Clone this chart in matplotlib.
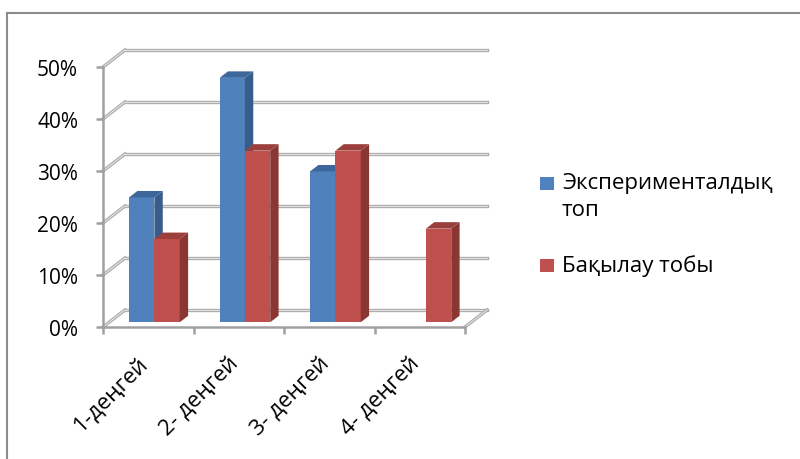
import matplotlib
matplotlib.use("Agg")
import matplotlib.pyplot as plt
from matplotlib.patches import Polygon, Rectangle
from matplotlib.lines import Line2D

plt.rcParams['font.family'] = ['Open Sans', 'DejaVu Sans']

categories = ['1-деңгей', '2- деңгей', '3- деңгей', '4- деңгей']
series_names = ['Экспериментaлдық\nтоп', 'Бақылау тобы']
experimental = [24, 47, 29, 0]
control = [16, 33, 33, 18]
y_ticks = [0, 10, 20, 30, 40, 50]
y_tick_labels = ['0%', '10%', '20%', '30%', '40%', '50%']

front_colors = ['#4F81BD', '#C0504D']
side_colors = ['#385D8A', '#8A3734']
top_colors = ['#3D679B', '#9B3F3C']
grid_dark = '#ababab'
grid_light = '#e2e2e2'

fig = plt.figure(figsize=(8, 4.6), dpi=100)
ax = fig.add_axes([103 / 800, 132 / 460, 362 / 800, 260 / 460])
ax.set_xlim(-0.5, 3.5)
ax.set_ylim(0, 50)

# 3D depth offset (full depth) in data units
Dx, Dy = 0.243, 3.27
f, b = 0.28, 0.38  # bar front depth and bar thickness (fractions)
w = 0.28

# back wall grid lines + left wall diagonals
for v in y_ticks:
    for c, lw in ((grid_dark, 2.4), (grid_light, 0.8)):
        ax.add_line(Line2D([-0.5 + Dx, 3.5 + Dx], [v + Dy, v + Dy], color=c, lw=lw,
                           clip_on=False, zorder=1))
        ax.add_line(Line2D([-0.5, -0.5 + Dx], [v, v + Dy], color=c, lw=lw,
                           clip_on=False, zorder=1))
for c, lw in ((grid_dark, 2.4), (grid_light, 0.8)):
    ax.add_line(Line2D([3.5, 3.5 + Dx], [0, Dy], color=c, lw=lw, clip_on=False, zorder=1))

# bars
for i in range(len(categories)):
    for s, vals in enumerate([experimental, control]):
        v = vals[i]
        if v == 0:
            continue
        x = i - w + s * w
        x0 = x + f * Dx
        y0 = f * Dy
        ax.bar(x0, v, width=w, bottom=y0, align='edge', color=front_colors[s],
               linewidth=0, zorder=3, clip_on=False)
        ddx, ddy = b * Dx, b * Dy
        side = Polygon([(x0 + w, y0), (x0 + w + ddx, y0 + ddy),
                        (x0 + w + ddx, y0 + v + ddy), (x0 + w, y0 + v)],
                       closed=True, facecolor=side_colors[s], edgecolor='none',
                       zorder=3, clip_on=False)
        top = Polygon([(x0, y0 + v), (x0 + w, y0 + v), (x0 + w + ddx, y0 + v + ddy),
                       (x0 + ddx, y0 + v + ddy)],
                      closed=True, facecolor=top_colors[s], edgecolor='none',
                      zorder=3, clip_on=False)
        ax.add_patch(side)
        ax.add_patch(top)

# axes styling
for sp in ['top', 'right']:
    ax.spines[sp].set_visible(False)
for sp in ['left', 'bottom']:
    ax.spines[sp].set_color('#a0a0a0')
    ax.spines[sp].set_linewidth(1.8)
ax.set_yticks(y_ticks)
ax.set_yticklabels(y_tick_labels, fontsize=15)
ax.tick_params(axis='y', length=5, width=1.8, color='#a0a0a0', pad=13)
ax.set_xticks(range(len(categories)))
ax.set_xticklabels([])
ax.set_xticks([-0.5, 0.5, 1.5, 2.5, 3.5], minor=True)
ax.tick_params(axis='x', which='major', length=0)
ax.tick_params(axis='x', which='minor', length=5, width=1.8, color='#a0a0a0')
ax.patch.set_visible(False)

for i, lab in enumerate(categories):
    ax.annotate(lab, xy=(i, 0), xycoords='data', xytext=(-2, -24),
                textcoords='offset points', rotation=45, rotation_mode='anchor',
                ha='right', va='center', fontsize=16)

# legend (manual, Excel-like top aligned)
fig.patches.append(Rectangle((540 / 800, 1 - 191 / 460), 14 / 800, 13 / 460,
                             transform=fig.transFigure, facecolor=front_colors[0],
                             edgecolor='none'))
fig.text(562 / 800, 1 - 173 / 460, series_names[0], fontsize=16, ha='left', va='top',
         linespacing=1.4, transform=fig.transFigure)
fig.patches.append(Rectangle((540 / 800, 1 - 273 / 460), 14 / 800, 13 / 460,
                             transform=fig.transFigure, facecolor=front_colors[1],
                             edgecolor='none'))
fig.text(562 / 800, 1 - 266 / 460, series_names[1], fontsize=16, ha='left', va='center',
         transform=fig.transFigure)

# outer chart border (partially visible)
fig.add_artist(Line2D([7 / 800, 7 / 800], [0, 1 - 14 / 460], color='#8c8c8c', lw=1.5,
                      transform=fig.transFigure))
fig.add_artist(Line2D([7 / 800, 1], [1 - 14 / 460, 1 - 14 / 460], color='#8c8c8c', lw=1.5,
                      transform=fig.transFigure))

fig.savefig('out.png', dpi=100)
